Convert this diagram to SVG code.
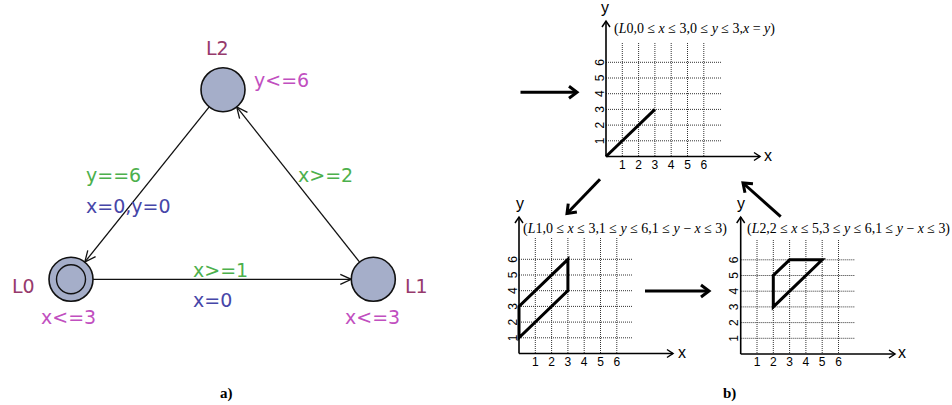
<svg xmlns="http://www.w3.org/2000/svg" width="952" height="405" viewBox="0 0 952 405">
<style>
.loc{fill:#a5aec9;stroke:#111;stroke-width:1.6}
.ta{font-family:"DejaVu Sans","Liberation Sans",sans-serif;font-size:19px}
.nm{fill:#963a6c}
.inv{fill:#c14fbf}
.grd{fill:#4cb04c}
.asg{fill:#4646a8}
.edge{stroke:#111;stroke-width:1.3;fill:none}
.grid{stroke:#333;stroke-width:1;stroke-dasharray:1 1;fill:none}
.axis{stroke:#000;stroke-width:1.6;fill:none}
.data{stroke:#000;stroke-width:3;fill:none;stroke-linejoin:miter}
.tick{font-family:"Liberation Sans",Arial,sans-serif;font-size:12px;fill:#000}
.axl{font-family:"Liberation Sans",Arial,sans-serif;font-size:16px;fill:#000}
.ttl{font-family:"Liberation Serif","Times New Roman",serif;font-size:14.5px;fill:#000}
.it{font-style:italic}
.big{stroke:#000;stroke-width:3;fill:none}
.cap{font-family:"Liberation Serif","Times New Roman",serif;font-size:15px;font-weight:bold;fill:#000}
</style>
<defs>
<marker id="ah" markerUnits="userSpaceOnUse" markerWidth="20" markerHeight="20" viewBox="-12 -10 14 20" refX="0" refY="0" orient="auto">
<path d="M-11,-5 L0,0 L-11,5" fill="none" stroke="#111" stroke-width="1.3"/>
</marker>
<marker id="bh" markerUnits="userSpaceOnUse" markerWidth="20" markerHeight="20" viewBox="-12 -10 14 20" refX="0" refY="0" orient="auto">
<path d="M-8,-6 L0,0 L-8,6" fill="none" stroke="#000" stroke-width="3"/>
</marker>
<marker id="xh" markerUnits="userSpaceOnUse" markerWidth="12" markerHeight="12" viewBox="-7 -6 8 12" refX="0" refY="0" orient="auto">
<path d="M-6,-4 L0,0 L-6,4" fill="none" stroke="#000" stroke-width="1.5"/>
</marker>
</defs>

<!-- a) timed automaton -->
<g id="connectors">
<line class="edge" x1="93" y1="279.3" x2="351.3" y2="279.3" marker-end="url(#ah)"/>
<line class="edge" x1="209.2" y1="106.9" x2="84.8" y2="262.1" marker-end="url(#ah)"/>
<line class="edge" x1="359.6" y1="262.1" x2="236.7" y2="106.9" marker-end="url(#ah)"/>
</g>
<g id="edge-labels" class="ta">
<text class="grd" x="193" y="277">x&gt;=1</text>
<text class="asg" x="193" y="307">x=0</text>
<text class="grd" x="86" y="182">y==6</text>
<text class="asg" x="86" y="213">x=0,y=0</text>
<text class="grd" x="298" y="182">x&gt;=2</text>
</g>
<g id="L0" class="ta">
<circle class="loc" cx="71" cy="279.3" r="22"/>
<circle cx="71" cy="279.3" r="14.5" fill="none" stroke="#111" stroke-width="1.4"/>
<text class="nm" x="12" y="293">L0</text>
<text class="inv" x="41" y="324">x&lt;=3</text>
</g>
<g id="L1" class="ta">
<circle class="loc" cx="373.3" cy="279.3" r="22"/>
<text class="nm" x="405" y="293">L1</text>
<text class="inv" x="345" y="324">x&lt;=3</text>
</g>
<g id="L2" class="ta">
<circle class="loc" cx="223" cy="89.7" r="22"/>
<text class="nm" x="206" y="55">L2</text>
<text class="inv" x="254" y="87">y&lt;=6</text>
</g>
<text class="cap" x="220" y="398">a)</text>

<!-- b) zone graph -->
<g id="zone-L0">
<g class="grid">
<path d="M622.3,43V156.5M638.6,43V156.5M654.9,43V156.5M671.2,43V156.5M687.5,43V156.5M703.8,43V156.5"/>
<path d="M606,140.8H722M606,125.1H722M606,109.4H722M606,93.7H722M606,78H722M606,62.3H722"/>
</g>
<line class="axis" x1="606" y1="156.5" x2="606" y2="21" marker-end="url(#xh)"/>
<line class="axis" x1="606" y1="156.5" x2="760" y2="156.5" marker-end="url(#xh)"/>
<text class="axl" x="605" y="13" text-anchor="middle">y</text>
<text class="axl" x="768" y="161" text-anchor="middle">x</text>
<g class="tick" text-anchor="middle">
<text x="622.3" y="168.5">1</text><text x="638.6" y="168.5">2</text><text x="654.9" y="168.5">3</text><text x="671.2" y="168.5">4</text><text x="687.5" y="168.5">5</text><text x="703.8" y="168.5">6</text>
<text transform="translate(603.5,140.8) rotate(-90)">1</text><text transform="translate(603.5,125.1) rotate(-90)">2</text><text transform="translate(603.5,109.4) rotate(-90)">3</text><text transform="translate(603.5,93.7) rotate(-90)">4</text><text transform="translate(603.5,78) rotate(-90)">5</text><text transform="translate(603.5,62.3) rotate(-90)">6</text>
</g>
<line class="data" x1="606" y1="156.5" x2="654.9" y2="109.4"/>
<text class="ttl" x="614" y="33" textLength="161" lengthAdjust="spacingAndGlyphs">(<tspan class="it">L</tspan>0,0 ≤ <tspan class="it">x</tspan> ≤ 3,0 ≤ <tspan class="it">y</tspan> ≤ 3,<tspan class="it">x</tspan> = <tspan class="it">y</tspan>)</text>
</g>

<g id="zone-L1">
<g class="grid">
<path d="M535.3,238V353.5M551.6,238V353.5M567.9,238V353.5M584.2,238V353.5M600.5,238V353.5M616.8,238V353.5"/>
<path d="M519,337.8H633M519,322.1H633M519,306.4H633M519,290.7H633M519,275H633M519,259.3H633"/>
</g>
<line class="axis" x1="519" y1="353.5" x2="519" y2="217" marker-end="url(#xh)"/>
<line class="axis" x1="519" y1="353.5" x2="673" y2="353.5" marker-end="url(#xh)"/>
<text class="axl" x="520" y="209" text-anchor="middle">y</text>
<text class="axl" x="682" y="358" text-anchor="middle">x</text>
<g class="tick" text-anchor="middle">
<text x="535.3" y="365.5">1</text><text x="551.6" y="365.5">2</text><text x="567.9" y="365.5">3</text><text x="584.2" y="365.5">4</text><text x="600.5" y="365.5">5</text><text x="616.8" y="365.5">6</text>
<text transform="translate(516.5,337.8) rotate(-90)">1</text><text transform="translate(516.5,322.1) rotate(-90)">2</text><text transform="translate(516.5,306.4) rotate(-90)">3</text><text transform="translate(516.5,290.7) rotate(-90)">4</text><text transform="translate(516.5,275) rotate(-90)">5</text><text transform="translate(516.5,259.3) rotate(-90)">6</text>
</g>
<polygon class="data" points="519,337.8 519,306.4 567.9,259.3 567.9,290.7"/>
<text class="ttl" x="523" y="233" textLength="204" lengthAdjust="spacingAndGlyphs">(<tspan class="it">L</tspan>1,0 ≤ <tspan class="it">x</tspan> ≤ 3,1 ≤ <tspan class="it">y</tspan> ≤ 6,1 ≤ <tspan class="it">y</tspan> − <tspan class="it">x</tspan> ≤ 3)</text>
</g>

<g id="zone-L2">
<g class="grid">
<path d="M757,240V354M773.3,240V354M789.6,240V354M805.9,240V354M822.2,240V354M838.5,240V354"/>
<path d="M740.7,338.3H855M740.7,322.6H855M740.7,306.9H855M740.7,291.2H855M740.7,275.5H855M740.7,259.8H855"/>
</g>
<line class="axis" x1="740.7" y1="354" x2="740.7" y2="217" marker-end="url(#xh)"/>
<line class="axis" x1="740.7" y1="354" x2="895" y2="354" marker-end="url(#xh)"/>
<text class="axl" x="741" y="209" text-anchor="middle">y</text>
<text class="axl" x="902" y="358" text-anchor="middle">x</text>
<g class="tick" text-anchor="middle">
<text x="757" y="366">1</text><text x="773.3" y="366">2</text><text x="789.6" y="366">3</text><text x="805.9" y="366">4</text><text x="822.2" y="366">5</text><text x="838.5" y="366">6</text>
<text transform="translate(738.2,338.3) rotate(-90)">1</text><text transform="translate(738.2,322.6) rotate(-90)">2</text><text transform="translate(738.2,306.9) rotate(-90)">3</text><text transform="translate(738.2,291.2) rotate(-90)">4</text><text transform="translate(738.2,275.5) rotate(-90)">5</text><text transform="translate(738.2,259.8) rotate(-90)">6</text>
</g>
<polygon class="data" points="773.3,306.9 773.3,275.5 789.6,259.8 822.2,259.8"/>
<text class="ttl" x="747" y="233" textLength="203" lengthAdjust="spacingAndGlyphs">(<tspan class="it">L</tspan>2,2 ≤ <tspan class="it">x</tspan> ≤ 5,3 ≤ <tspan class="it">y</tspan> ≤ 6,1 ≤ <tspan class="it">y</tspan> − <tspan class="it">x</tspan> ≤ 3)</text>
</g>

<g id="transitions">
<line class="big" x1="520.5" y1="92.3" x2="577" y2="92.3" marker-end="url(#bh)"/>
<line class="big" x1="600" y1="179.3" x2="567" y2="213.5" marker-end="url(#bh)"/>
<line class="big" x1="645" y1="291" x2="709" y2="291" marker-end="url(#bh)"/>
<line class="big" x1="780.7" y1="216.7" x2="743" y2="183" marker-end="url(#bh)"/>
</g>
<text class="cap" x="723" y="398">b)</text>
</svg>
